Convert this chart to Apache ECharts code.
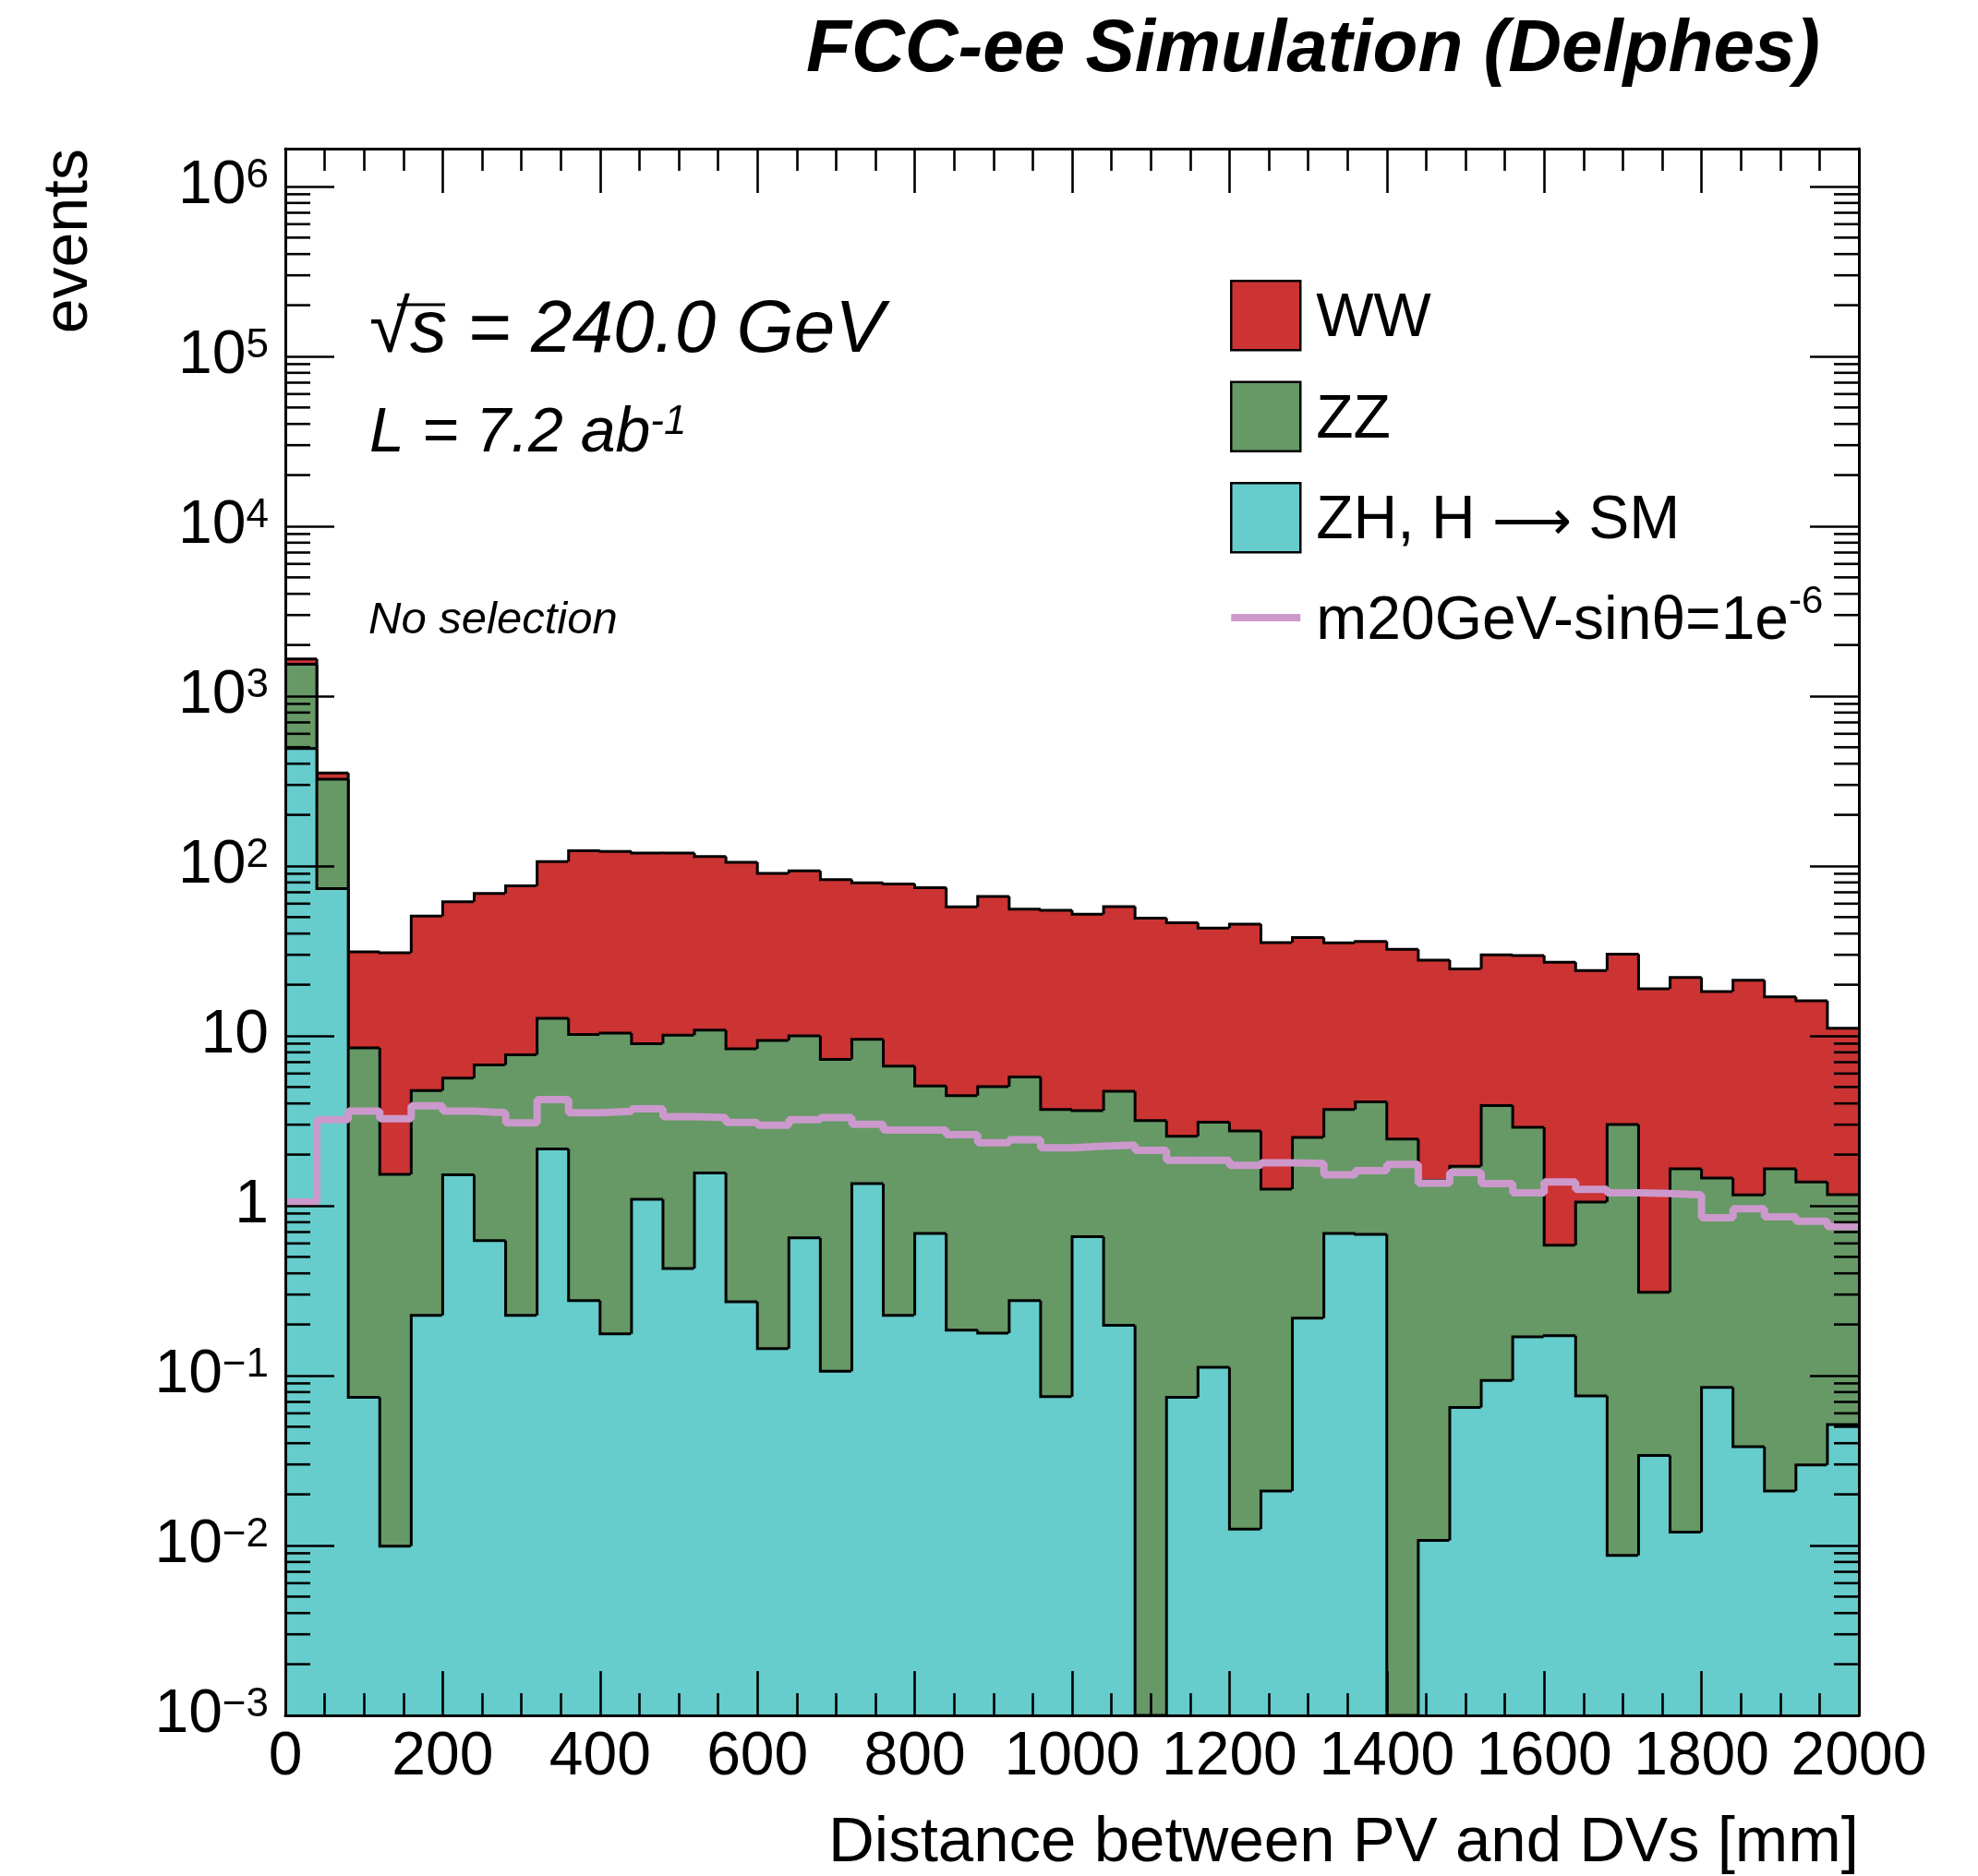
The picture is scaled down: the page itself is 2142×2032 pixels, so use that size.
<!DOCTYPE html>
<html><head><meta charset="utf-8">
<script src="https://cdn.jsdelivr.net/npm/echarts@6/dist/echarts.min.js"></script>
<style>html,body{margin:0;padding:0;background:#fff}#c{width:2142px;height:2032px}</style>
</head><body><div id="c"></div>
<script>
// ---- data ----
const binEdges = [0,40,80,120,160,200,240,280,320,360,400,440,480,520,560,600,640,680,720,760,800,840,880,920,960,1000,1040,1080,1120,1160,1200,1240,1280,1320,1360,1400,1440,1480,1520,1560,1600,1640,1680,1720,1760,1800,1840,1880,1920,1960,2000];
const wwValues = [114,29,22.7,29.3,45.9,56.0,62.2,68.6,93.3,112.8,111.2,110,108.9,102.7,96.6,81.0,83.5,75.9,70.0,71.7,69.4,53.0,61.2,49.9,51.1,48.4,53.0,46.2,43.7,40.0,42.7,34.1,35.4,31.6,31.9,29.8,26.5,23.1,26.1,26.8,26.5,23.2,27.3,18.6,20.4,16.8,20.1,15.3,14.7,9.94];
const zzValues = [1046,250,8.42,1.52,4.54,4.12,6.12,7.52,10.54,9.92,10.22,7.89,9.67,9.24,8.13,9.26,9.35,7.17,8.2,6.41,4.38,4.26,4.84,5.45,3.61,2.97,4.52,3.17,2.49,2.99,2.74,1.23,2.31,3.00,3.41,2.47,1.40,1.64,3.79,2.73,0.413,0.974,3.00,0.275,1.64,1.37,1.12,1.63,1.35,1.11];
const zhValues = [492,73.7,0.0745,0.0099,0.226,1.52,0.624,0.226,2.16,0.276,0.176,1.09,0.427,1.56,0.272,0.144,0.648,0.106,1.35,0.226,0.688,0.185,0.178,0.276,0.0753,0.657,0.198,0,0.0745,0.112,0.0125,0.0209,0.218,0.688,0.679,0,0.0107,0.0649,0.0936,0.169,0.172,0.076,0.00873,0.0339,0.012,0.0853,0.0381,0.0209,0.0298,0.0515];
const signalValues = [1.05,3.21,3.61,3.25,3.88,3.61,3.53,3.07,4.22,3.53,3.60,3.72,3.35,3.30,3.09,2.98,3.21,3.30,3.02,2.79,2.79,2.62,2.35,2.45,2.19,2.24,2.28,2.12,1.85,1.85,1.73,1.79,1.77,1.52,1.61,1.75,1.36,1.57,1.35,1.19,1.38,1.25,1.19,1.18,1.16,0.85,0.96,0.86,0.81,0.755];
const seriesNames = ['WW', 'ZZ', 'ZH, H \u2192 SM', 'm20GeV-sin\u03B8=1e-6'];
const xTickValues = [0,200,400,600,800,1000,1200,1400,1600,1800,2000];

// ---- styling ----
const FONT = '"Liberation Sans", Arial, Helvetica, sans-serif';
const colWW = '#CC3333', colZZ = '#669966', colZH = '#66CCCC', colSig = '#CC99CC';
const yMin = 1e-3, yMax = 1.67e6;

const cumZH = zhValues.slice();
const cumZZ = zhValues.map((v, i) => v + zzValues[i]);
const cumWW = cumZZ.map((v, i) => v + wwValues[i]);

function stackData(cum) {
  return cum.map((v, i) => [binEdges[i], binEdges[i + 1], v, i > 0 ? cum[i - 1] : 0]);
}
function clampY(v) { return Math.min(Math.max(v, yMin), yMax); }
function stepRenderer(color) {
  return function (params, api) {
    const x0 = api.value(0), x1 = api.value(1);
    const top = clampY(api.value(2)), prev = clampY(api.value(3));
    const pTL = api.coord([x0, top]);
    const pTR = api.coord([x1, top]);
    const pBR = api.coord([x1, yMin]);
    const pPrev = api.coord([x0, prev]);
    return {
      type: 'group',
      children: [
        { type: 'rect', shape: { x: pTL[0], y: pTL[1], width: pBR[0] - pTL[0], height: pBR[1] - pTL[1] },
          style: { fill: color, stroke: color, lineWidth: 1.2 } },
        { type: 'polyline', shape: { points: [[pPrev[0], pPrev[1]], [pTL[0], pTL[1]], [pTR[0], pTR[1]]] },
          style: { stroke: '#000', lineWidth: 3, fill: null } }
      ]
    };
  };
}
// minor tick positions on the log axis (2..9 x 10^n)
const minorTickValues = [];
for (let n = -3; n <= 6; n++) for (let k = 2; k <= 9; k++) { const v = k * Math.pow(10, n); if (v < yMax) minorTickValues.push([v]); }

const supRich = {
  b: { fontSize: 66, fontFamily: FONT, color: '#000', lineHeight: 66, verticalAlign: 'bottom', padding: [15, 0, 0, 0] },
  s: { fontSize: 44, fontFamily: FONT, color: '#000', lineHeight: 51, verticalAlign: 'top' }
};
function yLabel(value) {
  const lg = Math.log10(value), n = Math.round(lg);
  if (Math.abs(lg - n) > 1e-6) return '';
  if (n === 0) return '{b|1}';
  if (n === 1) return '{b|10}';
  return '{b|10}{s|' + (n < 0 ? '\u2212' + (-n) : n) + '}';
}

const sigData = binEdges.slice(0, -1).map((x, i) => [x, signalValues[i]]);
sigData.push([binEdges[binEdges.length - 1], signalValues[signalValues.length - 1]]);

const axisLineStyle = { color: '#000', width: 3 };
const xAxisCommon = {
  type: 'value', min: 0, max: 2000, interval: 200, z: 10,
  axisLine: { show: true, onZero: false, lineStyle: axisLineStyle },
  axisTick: { show: true, inside: true, length: 48, lineStyle: { color: '#000', width: 2.6 } },
  minorTick: { show: true, splitNumber: 4, length: 24, lineStyle: { color: '#000', width: 2.6 } },
  splitLine: { show: false }, minorSplitLine: { show: false }
};
const yAxisCommon = {
  type: 'log', logBase: 10, min: yMin, max: yMax, z: 10,
  axisLine: { show: true, onZero: false, lineStyle: axisLineStyle },
  axisTick: { show: true, inside: true, length: 53, lineStyle: { color: '#000', width: 2.6 } },
  splitLine: { show: false }
};

const chart = echarts.init(document.getElementById('c'), null, { renderer: 'canvas', width: 2142, height: 2032 });
chart.setOption({
  animation: false,
  backgroundColor: '#fff',
  grid: { left: 309, right: 129, top: 161, bottom: 174, containLabel: false, outerBoundsMode: 'none' },
  xAxis: [
    Object.assign({}, xAxisCommon, { position: 'bottom',
      axisLabel: { show: true, fontSize: 66, lineHeight: 66, fontFamily: FONT, color: '#000', margin: 13,
        formatter: v => xTickValues.indexOf(v) >= 0 ? String(v) : '' } }),
    Object.assign({}, xAxisCommon, { position: 'top', axisLabel: { show: false } })
  ],
  yAxis: [
    Object.assign({}, yAxisCommon, { position: 'left',
      axisLabel: { show: true, margin: 18, formatter: yLabel, rich: supRich, align: 'right' } }),
    Object.assign({}, yAxisCommon, { position: 'right', axisLabel: { show: false } })
  ],
  legend: {
    show: true, orient: 'vertical', left: 1332, top: 303, itemWidth: 75, itemHeight: 75, itemGap: 32,
    selectedMode: false, padding: 0,
    data: [
      { name: seriesNames[0], icon: 'rect', itemStyle: { color: colWW, borderColor: '#000', borderWidth: 2.5 } },
      { name: seriesNames[1], icon: 'rect', itemStyle: { color: colZZ, borderColor: '#000', borderWidth: 2.5 } },
      { name: seriesNames[2], icon: 'rect', itemStyle: { color: colZH, borderColor: '#000', borderWidth: 2.5 } },
      { name: seriesNames[3], icon: 'path://M0,0L0.05,0L0.05,0.05ZM0,33.5L75,33.5L75,41.5L0,41.5ZM74.95,75L75,75L75,74.95Z',
        itemStyle: { color: colSig, borderWidth: 0, borderColor: 'transparent' } }
    ],
    formatter: function (name) {
      if (name === seriesNames[3]) return '{t|m20GeV-sin\u03B8=1e}{s|-6}';
      if (name === seriesNames[2]) return '{t|ZH, H }{a|\u27F6}{u| SM}';
      return '{t|' + name + '}';
    },
    textStyle: {
      rich: {
        t: { fontSize: 66, fontFamily: FONT, color: '#000', padding: [0, 0, 0, 12], lineHeight: 75, verticalAlign: 'bottom' },
        u: { fontSize: 66, fontFamily: FONT, color: '#000', lineHeight: 75, verticalAlign: 'bottom' },
        a: { fontSize: 60, fontFamily: '"DejaVu Sans", ' + FONT, color: '#000', lineHeight: 75, verticalAlign: 'bottom' },
        s: { fontSize: 42, fontFamily: FONT, color: '#000', lineHeight: 42, verticalAlign: 'top' }
      }
    }
  },
  series: [
    { type: 'custom', name: seriesNames[0], coordinateSystem: 'cartesian2d', xAxisIndex: 0, yAxisIndex: 0,
      data: stackData(cumWW), encode: { x: [0, 1], y: [2] }, renderItem: stepRenderer(colWW), clip: true, z: 2,
      itemStyle: { color: colWW } },
    { type: 'custom', name: seriesNames[1], coordinateSystem: 'cartesian2d', xAxisIndex: 0, yAxisIndex: 0,
      data: stackData(cumZZ), encode: { x: [0, 1], y: [2] }, renderItem: stepRenderer(colZZ), clip: true, z: 3,
      itemStyle: { color: colZZ } },
    { type: 'custom', name: seriesNames[2], coordinateSystem: 'cartesian2d', xAxisIndex: 0, yAxisIndex: 0,
      data: stackData(cumZH), encode: { x: [0, 1], y: [2] }, renderItem: stepRenderer(colZH), clip: true, z: 4,
      itemStyle: { color: colZH } },
    { type: 'line', name: seriesNames[3], xAxisIndex: 0, yAxisIndex: 0, data: sigData, step: 'end',
      symbol: 'none', showSymbol: false, clip: true, z: 5,
      lineStyle: { color: colSig, width: 8 }, itemStyle: { color: colSig } },
    { type: 'custom', name: 'minorTicks', coordinateSystem: 'cartesian2d', xAxisIndex: 0, yAxisIndex: 0,
      data: minorTickValues, encode: { y: [0] }, z: 11, silent: true,
      renderItem: function (params, api) {
        const v = api.value(0);
        const pl = api.coord([0, v]), pr = api.coord([2000, v]);
        return { type: 'group', children: [
          { type: 'line', shape: { x1: pl[0], y1: pl[1], x2: pl[0] + 27, y2: pl[1] }, style: { stroke: '#000', lineWidth: 2.6 } },
          { type: 'line', shape: { x1: pr[0] - 27, y1: pr[1], x2: pr[0], y2: pr[1] }, style: { stroke: '#000', lineWidth: 2.6 } }
        ] };
      } }
  ],
  graphic: [
    { type: 'text', x: 1971, y: 55, style: { text: 'FCC-ee Simulation (Delphes)', font: 'italic bold 80px ' + FONT, fill: '#000', align: 'right', verticalAlign: 'middle' } },
    { type: 'text', x: 400, y: 359, style: { text: '\u221As = 240.0 GeV', font: 'italic 80px ' + FONT, fill: '#000', align: 'left', verticalAlign: 'middle' } },
    { type: 'line', shape: { x1: 430, y1: 330, x2: 482, y2: 330 }, style: { stroke: '#000', lineWidth: 3 } },
    { type: 'text', x: 400, y: 470, style: { text: '{a|L = 7.2 ab}{s|-1}', fill: '#000', align: 'left', verticalAlign: 'middle',
        rich: { a: { fontSize: 68, fontStyle: 'italic', fontFamily: FONT, color: '#000', lineHeight: 68, verticalAlign: 'bottom', padding: [16, 0, 0, 0] },
                s: { fontSize: 44, fontStyle: 'italic', fontFamily: FONT, color: '#000', lineHeight: 44, verticalAlign: 'top' } } } },
    { type: 'text', x: 399, y: 672, style: { text: 'No selection', font: 'italic 49px ' + FONT, fill: '#000', align: 'left', verticalAlign: 'middle' } },
    { type: 'text', x: 75, y: 161, rotation: Math.PI / 2, style: { text: 'events', font: '68px ' + FONT, fill: '#000', align: 'right', verticalAlign: 'middle' } },
    { type: 'text', x: 2013, y: 1997, style: { text: 'Distance between PV and DVs [mm]', font: '69px ' + FONT, fill: '#000', align: 'right', verticalAlign: 'middle' } }
  ]
});
</script>
</body></html>
